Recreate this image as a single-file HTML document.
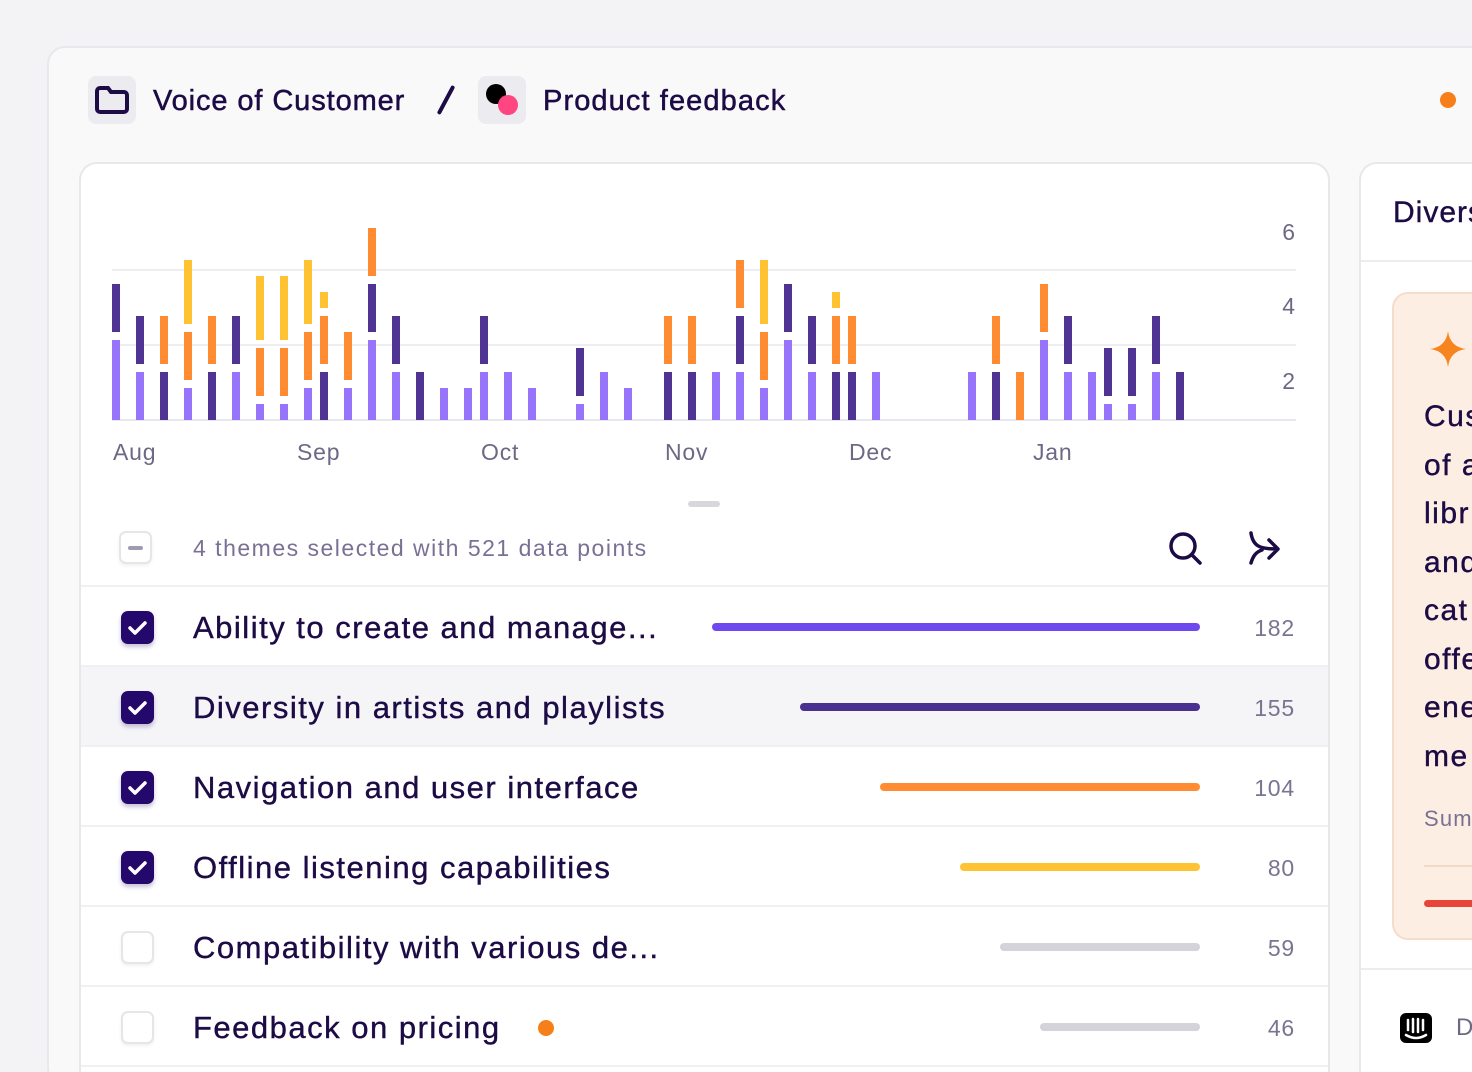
<!DOCTYPE html>
<html style="width:1472px;height:1072px;overflow:hidden"><head><meta charset="utf-8"><style>
*{margin:0;padding:0;box-sizing:border-box}
body{width:1472px;height:1072px;overflow:hidden;background:#f3f3f5;font-family:"Liberation Sans",sans-serif;color:#1c0b45;position:relative}
.abs{position:absolute}
.outer{left:47px;top:46px;width:1440px;height:1040px;background:#f9f9fa;border:2px solid #e8e8ec;border-radius:18px}
.card{left:79px;top:162px;width:1251px;height:940px;background:#fff;border:2px solid #e8e8ec;border-radius:18px}
.card2{left:1359px;top:162px;width:200px;height:940px;background:#fff;border:2px solid #e8e8ec;border-radius:18px}
.row{position:absolute;left:81px;width:1247px;height:80px;border-bottom:2px solid #f0f0f3}
.cb{position:absolute;left:40px;top:24px;width:33px;height:33px;border-radius:7px}
.cb.on{background:#24086b;box-shadow:0 3px 4px rgba(36,8,107,.25)}
.cb.off{border:2px solid #e6e6ea;background:#fff;box-shadow:0 2px 3px rgba(0,0,0,.06)}
.lbl{position:absolute;left:112px;top:23px;font-size:31px;letter-spacing:1.5px;white-space:nowrap;-webkit-text-stroke:0.4px #1c0b45}
.bar{position:absolute;top:36px;height:8px;border-radius:4px}
.num{position:absolute;right:33px;top:28px;font-size:23px;color:#7a7490;letter-spacing:.8px}
</style></head><body>
<div class="abs outer"></div>
<div class="abs" style="left:88px;top:76px;width:48px;height:48px;background:#ecebf0;border-radius:8px"></div>
<svg class="abs" style="left:95px;top:85px" width="34" height="30"><path d="M2 6 a3 3 0 0 1 3-3 h8 l3 4 h13 a3 3 0 0 1 3 3 v14 a3 3 0 0 1-3 3 h-24 a3 3 0 0 1-3-3z" fill="none" stroke="#1c0b45" stroke-width="4"/></svg>
<div class="abs" style="left:153px;top:85px;font-size:29px;letter-spacing:.9px;-webkit-text-stroke:0.5px #1c0b45">Voice of Customer</div>
<div class="abs" style="left:444px;top:84px;width:4px;height:32px;background:#1c0b45;border-radius:2px;transform:rotate(28deg)"></div>
<div class="abs" style="left:478px;top:76px;width:48px;height:48px;background:#ecebf0;border-radius:8px"></div>
<div class="abs" style="left:486px;top:84px;width:20px;height:20px;background:#000;border-radius:50%"></div>
<div class="abs" style="left:498px;top:95px;width:20px;height:20px;background:#ff4582;border-radius:50%"></div>
<div class="abs" style="left:543px;top:85px;font-size:29px;letter-spacing:1.1px;-webkit-text-stroke:0.5px #1c0b45">Product feedback</div>
<div class="abs" style="left:1440px;top:92px;width:16px;height:16px;background:#f77f1a;border-radius:50%"></div>

<div class="abs card"></div>
<svg class="abs" style="left:0;top:0" width="1330" height="480">
<line x1="112" y1="270" x2="1296" y2="270" stroke="#eeedf2" stroke-width="2"/>
<line x1="112" y1="345" x2="1296" y2="345" stroke="#eeedf2" stroke-width="2"/>
<line x1="112" y1="420" x2="1296" y2="420" stroke="#e8e7ee" stroke-width="2"/>
<g id="bars"></g>
<g fill="#6e6885" font-size="23" text-anchor="end">
<text x="1295" y="240">6</text><text x="1295" y="314">4</text><text x="1295" y="389">2</text></g>
<g fill="#6e6885" font-size="23" letter-spacing="0.8">
<text x="113" y="460">Aug</text><text x="297" y="460">Sep</text><text x="481" y="460">Oct</text>
<text x="665" y="460">Nov</text><text x="849" y="460">Dec</text><text x="1033" y="460">Jan</text></g>
</svg>
<div class="abs" style="left:688px;top:501px;width:32px;height:6px;background:#d8d7de;border-radius:3px"></div>

<div class="row" style="top:507px">
<div class="cb off" style="top:24px;left:38px"><div style="position:absolute;left:7px;top:13px;width:15px;height:4px;background:#a09bb3;border-radius:2px"></div></div>
<div class="abs" style="left:112px;top:28px;font-size:23px;color:#7a7094;letter-spacing:1.5px">4 themes selected with 521 data points</div>
<svg class="abs" style="left:1086px;top:22px" width="40" height="40"><circle cx="16" cy="17" r="12" fill="none" stroke="#1c0b45" stroke-width="3.5"/><line x1="25" y1="26" x2="33" y2="34" stroke="#1c0b45" stroke-width="3.5" stroke-linecap="round"/></svg>
<svg class="abs" style="left:1166px;top:22px" width="40" height="40"><path d="M4 4 c2 14 10 16 26 16 M22 11 l9 9 -9 9 M4 34 c2-7 5-11 11-13" fill="none" stroke="#1c0b45" stroke-width="3.5" stroke-linecap="round" stroke-linejoin="round"/></svg>
</div>

<div class="row" style="top:587px"><div class="cb on"><svg width="33" height="33"><path d="M9 17 l5 5 10-10" fill="none" stroke="#fff" stroke-width="3.5" stroke-linecap="round" stroke-linejoin="round"/></svg></div><div class="lbl">Ability to create and manage...</div><div class="bar" style="left:631px;width:488px;background:#7048f0"></div><div class="num">182</div></div>
<div class="row" style="top:667px;background:#f5f5f8"><div class="cb on"><svg width="33" height="33"><path d="M9 17 l5 5 10-10" fill="none" stroke="#fff" stroke-width="3.5" stroke-linecap="round" stroke-linejoin="round"/></svg></div><div class="lbl">Diversity in artists and playlists</div><div class="bar" style="left:719px;width:400px;background:#4a3191"></div><div class="num">155</div></div>
<div class="row" style="top:747px"><div class="cb on"><svg width="33" height="33"><path d="M9 17 l5 5 10-10" fill="none" stroke="#fff" stroke-width="3.5" stroke-linecap="round" stroke-linejoin="round"/></svg></div><div class="lbl">Navigation and user interface</div><div class="bar" style="left:799px;width:320px;background:#ff8c33"></div><div class="num">104</div></div>
<div class="row" style="top:827px"><div class="cb on"><svg width="33" height="33"><path d="M9 17 l5 5 10-10" fill="none" stroke="#fff" stroke-width="3.5" stroke-linecap="round" stroke-linejoin="round"/></svg></div><div class="lbl">Offline listening capabilities</div><div class="bar" style="left:879px;width:240px;background:#ffc233"></div><div class="num">80</div></div>
<div class="row" style="top:907px"><div class="cb off"></div><div class="lbl">Compatibility with various de...</div><div class="bar" style="left:919px;width:200px;background:#d4d3dc"></div><div class="num">59</div></div>
<div class="row" style="top:987px"><div class="cb off"></div><div class="lbl">Feedback on pricing</div><div class="abs" style="left:457px;top:33px;width:16px;height:16px;border-radius:50%;background:#f77f1a"></div><div class="bar" style="left:959px;width:160px;background:#d4d3dc"></div><div class="num">46</div></div>

<div class="abs card2"></div>
<div class="abs" style="left:1361px;top:260px;width:200px;height:2px;background:#ededf1"></div>
<div class="abs" style="left:1393px;top:196px;font-size:30px;letter-spacing:1px;-webkit-text-stroke:0.4px #1c0b45">Diversity</div>
<div class="abs" style="left:1392px;top:292px;width:200px;height:648px;background:#fdeee3;border:2px solid #f5dccc;border-radius:16px"></div>
<svg class="abs" style="left:1428px;top:329px" width="40" height="40"><path d="M20 2 Q22 18 38 20 Q22 22 20 38 Q18 22 2 20 Q18 18 20 2Z" fill="#f7851f"/></svg>
<div class="abs" style="left:1424px;top:393px;font-size:30px;line-height:48.5px;letter-spacing:1.5px;-webkit-text-stroke:0.4px #1c0b45">Cus<br>of a<br>libr<br>and<br>cat<br>offe<br>ene<br>me</div>
<div class="abs" style="left:1424px;top:806px;font-size:22px;color:#7a7094;letter-spacing:1.2px">Sum</div>
<div class="abs" style="left:1424px;top:865px;width:60px;height:2px;background:#f2d8c6"></div>
<div class="abs" style="left:1424px;top:900px;width:60px;height:7px;background:#e8453a;border-radius:4px"></div>
<div class="abs" style="left:1361px;top:968px;width:200px;height:2px;background:#ededf1"></div>
<div class="abs" style="left:1400px;top:1013px;width:32px;height:30px;background:#000;border-radius:6px"></div>
<svg class="abs" style="left:1400px;top:1013px" width="32" height="30"><g stroke="#fff" stroke-width="2.5" stroke-linecap="round"><line x1="8" y1="7" x2="8" y2="17"/><line x1="13" y1="6" x2="13" y2="19"/><line x1="18" y1="6" x2="18" y2="19"/><line x1="23" y1="7" x2="23" y2="17"/></g><path d="M6 22 q10 6 20 0" fill="none" stroke="#fff" stroke-width="2.5" stroke-linecap="round"/></svg>
<div class="abs" style="left:1456px;top:1014px;font-size:24px;color:#6e6885">D</div>

<script>
var L='#9775fa',D='#4f3494',O='#ff8c33',Y='#ffc233';
function s(a,b){return [220+a/3,220+b/3];}
var bars=[
[112,[[L,360,600],[D,192,336]]],[136,[[L,456,600],[D,288,432]]],[160,[[D,456,600],[O,288,432]]],
[184,[[L,504,600],[O,336,480],[Y,120,312]]],[208,[[D,456,600],[O,288,432]]],[232,[[L,456,600],[D,288,432]]],
[256,[[L,552,600],[O,384,528],[Y,168,360]]],[280,[[L,552,600],[O,384,528],[Y,168,360]]],
[304,[[L,504,600],[O,336,480],[Y,120,312]]],[320,[[D,456,600],[O,288,432],[Y,216,264]]],
[344,[[L,504,600],[O,336,480]]],[368,[[L,360,600],[D,192,336],[O,24,168]]],[392,[[L,456,600],[D,288,432]]],
[416,[[D,456,600]]],[440,[[L,504,600]]],[464,[[L,504,600]]],[480,[[L,456,600],[D,288,432]]],
[504,[[L,456,600]]],[528,[[L,504,600]]],[576,[[L,552,600],[D,384,528]]],[600,[[L,456,600]]],[624,[[L,504,600]]],
[664,[[D,456,600],[O,288,432]]],[688,[[D,456,600],[O,288,432]]],[712,[[L,456,600]]],
[736,[[L,456,600],[D,288,432],[O,120,264]]],[760,[[L,504,600],[O,336,480],[Y,120,312]]],
[784,[[L,360,600],[D,192,336]]],[808,[[L,456,600],[D,288,432]]],[832,[[D,456,600],[O,288,432],[Y,216,264]]],
[848,[[D,456,600],[O,288,432]]],[872,[[L,456,600]]],[968,[[L,456,600]]],[992,[[D,456,600],[O,288,432]]],
[1016,[[O,456,600]]],[1040,[[L,360,600],[O,192,336]]],[1064,[[L,456,600],[D,288,432]]],[1088,[[L,456,600]]],
[1104,[[L,552,600],[D,384,528]]],[1128,[[L,552,600],[D,384,528]]],[1152,[[L,456,600],[D,288,432]]],[1176,[[D,456,600]]]];
var g=document.getElementById('bars'),h='';
bars.forEach(function(b){b[1].forEach(function(q){var y=s(q[1],q[2]);h+='<rect x="'+b[0]+'" y="'+y[0]+'" width="8" height="'+(y[1]-y[0])+'" fill="'+q[0]+'"/>';});});
g.innerHTML=h;
</script>
</body></html>
